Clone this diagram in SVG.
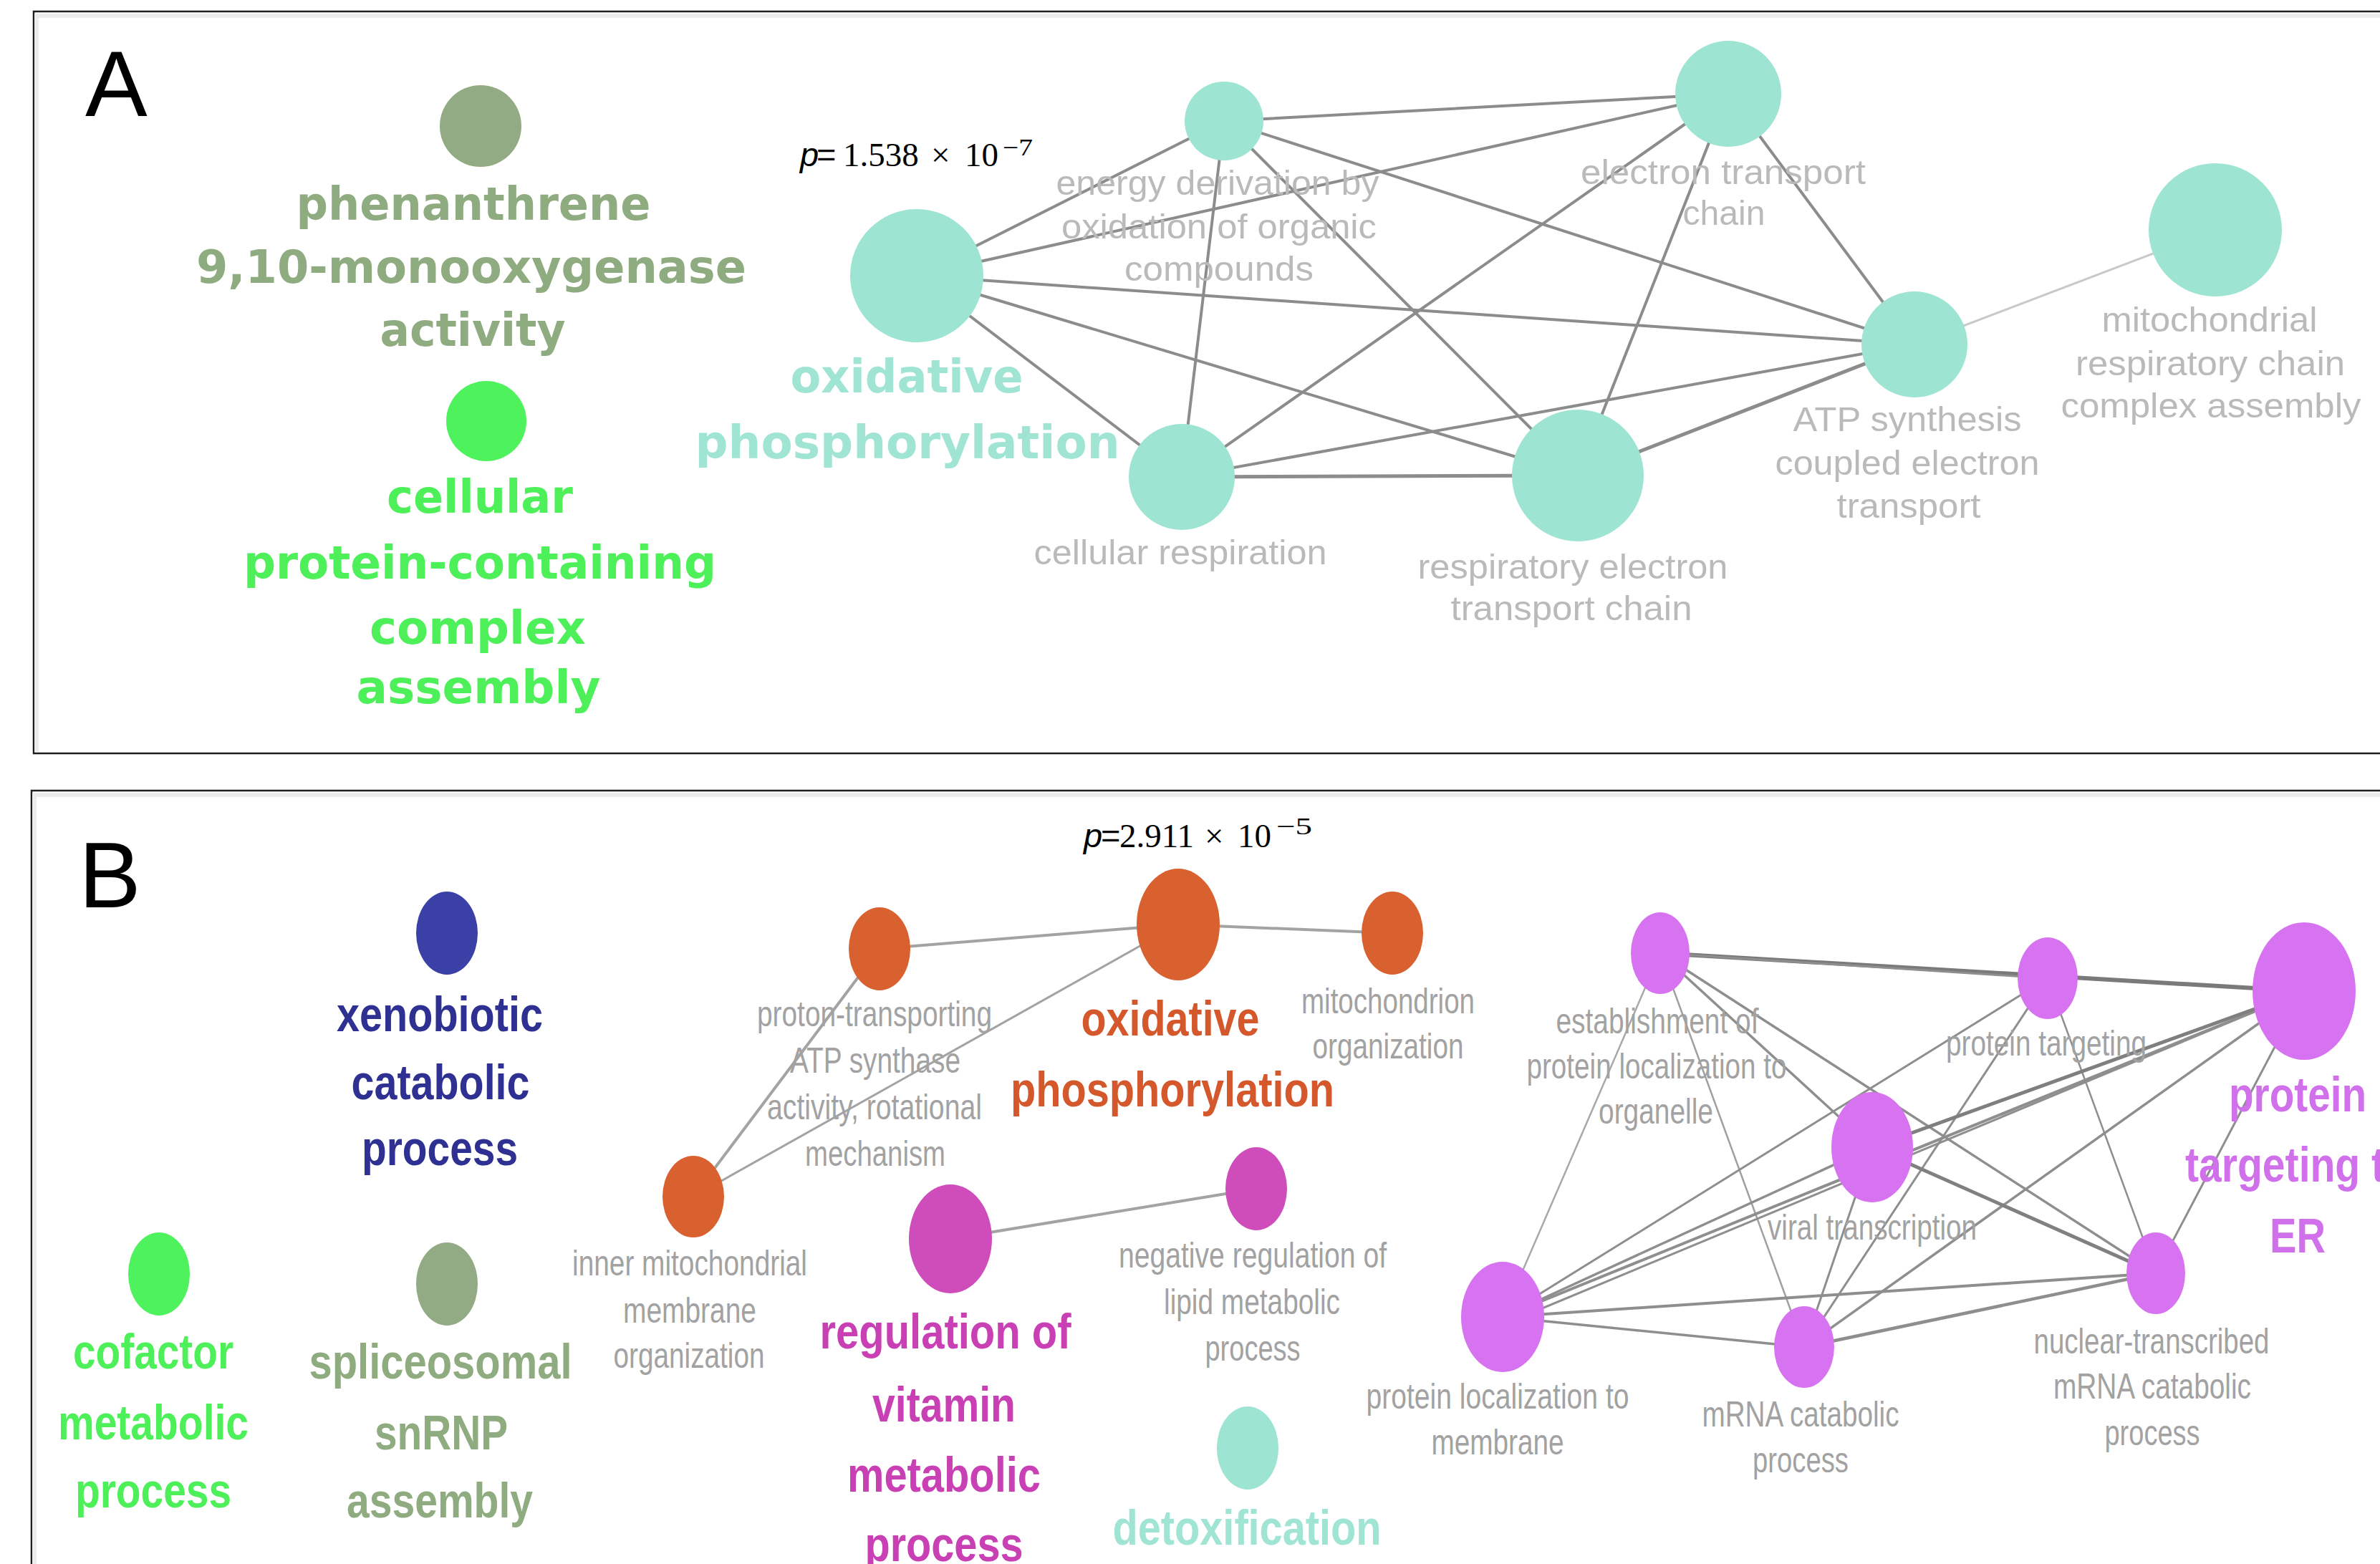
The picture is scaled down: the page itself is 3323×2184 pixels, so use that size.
<svg xmlns="http://www.w3.org/2000/svg" width="3323" height="2184" viewBox="0 0 3323 2184">
<style>
.panel{fill:#ffffff;stroke:#1e1e1e;stroke-width:2.5}
.shadow{fill:none;stroke:#ececec;stroke-width:6}
.lab{font-family:"Liberation Sans",Arial,sans-serif;font-size:130px;fill:#000}
.ab{font-family:"DejaVu Sans","Liberation Sans",sans-serif;font-weight:bold;font-size:64px;text-anchor:middle}
.ag{font-family:"Liberation Sans",Arial,sans-serif;font-size:48px;fill:#bababa;text-anchor:middle}
.bb{font-family:"Liberation Sans Narrow","Liberation Sans",Arial,sans-serif;font-weight:bold;font-size:68px;text-anchor:middle}
.bg{font-family:"Liberation Sans Narrow","Liberation Sans",Arial,sans-serif;font-size:50px;fill:#a2a2a2;text-anchor:middle}
.pv{font-family:"Liberation Serif","Times New Roman",serif;font-size:47px;fill:#000}
.pi{font-family:"Liberation Sans",Arial,sans-serif;font-style:italic}
.ps{font-family:"Liberation Sans",Arial,sans-serif}
.teal{fill:#9ee4d2}
.orng{fill:#d9602f}
.mag{fill:#cf4cbb}
.pur{fill:#d773f0}
.e{stroke:#8c8c8c;stroke-width:4;fill:none;stroke-linecap:round}
.eb{stroke:#a3a3a3;stroke-width:4;fill:none}
.ep{stroke:#8e8e8e;stroke-width:3;fill:none}
</style>

<g id="panels">
<rect class="panel" x="47" y="16" width="3400" height="1036"/>
<polyline class="shadow" points="51,1050 51,22 3330,22"/>
<rect class="panel" x="44" y="1104" width="3400" height="1200"/>
<polyline class="shadow" points="48,2190 48,1110 3330,1110"/>
<text class="lab" x="119" y="162">A</text>
<text class="lab" x="110" y="1267">B</text>
</g>

<g id="pvalues">
<text class="pv" y="232"><tspan class="pi" x="1117">p</tspan><tspan class="ps" x="1140">=</tspan><tspan x="1177">1.538</tspan><tspan x="1300">×</tspan><tspan x="1347">10</tspan><tspan x="1400" y="217" font-size="33" textLength="42" lengthAdjust="spacingAndGlyphs">−7</tspan></text>
<text class="pv" y="1183"><tspan class="pi" x="1513">p</tspan><tspan class="ps" x="1537">=</tspan><tspan x="1563">2.911</tspan><tspan x="1682">×</tspan><tspan x="1728">10</tspan><tspan x="1782" y="1165" font-size="33" textLength="50" lengthAdjust="spacingAndGlyphs">−5</tspan></text>
</g>

<g id="connectors">
<!-- panel A -->
<line class="e" x1="1280" y1="385" x2="1709" y2="169"/>
<line class="e" x1="1280" y1="385" x2="2413" y2="131"/>
<line class="e" x1="1280" y1="385" x2="2673" y2="481"/>
<line class="e" x1="1280" y1="385" x2="2203" y2="664"/>
<line class="e" x1="1280" y1="385" x2="1650" y2="666"/>
<line class="e" x1="1709" y1="169" x2="2413" y2="131"/>
<line class="e" x1="1709" y1="169" x2="2673" y2="481"/>
<line class="e" x1="1709" y1="169" x2="2203" y2="664"/>
<line class="e" x1="1709" y1="169" x2="1650" y2="666"/>
<line class="e" x1="1650" y1="666" x2="2413" y2="131"/>
<line class="e" x1="1650" y1="666" x2="2673" y2="481"/>
<line class="e" x1="1650" y1="666" x2="2203" y2="664" style="stroke-width:5"/>
<line class="e" x1="2203" y1="664" x2="2413" y2="131"/>
<line class="e" x1="2203" y1="664" x2="2673" y2="481" style="stroke-width:5"/>
<line class="e" x1="2413" y1="131" x2="2673" y2="481"/>
<line class="e" x1="2673" y1="481" x2="3093" y2="321" style="stroke:#c9c9c9;stroke-width:3"/>
<!-- panel B orange / magenta -->
<line class="eb" x1="1228" y1="1325" x2="1645" y2="1291"/>
<line class="eb" x1="1645" y1="1291" x2="1944" y2="1303"/>
<line class="eb" x1="968" y1="1671" x2="1228" y2="1325"/>
<line class="eb" x1="968" y1="1671" x2="1645" y2="1291" style="stroke-width:3"/>
<line class="eb" x1="1327" y1="1730" x2="1754" y2="1660"/>
<!-- panel B purple -->
<line class="ep" x1="2318" y1="1331" x2="3217" y2="1384" style="stroke:#7a7a7a;stroke-width:6"/>
<line class="ep" x1="2318" y1="1331" x2="2859" y2="1366"/>
<line class="ep" x1="2318" y1="1331" x2="2098" y2="1839" style="stroke:#a8a8a8;stroke-width:2.5"/>
<line class="ep" x1="2318" y1="1331" x2="2519" y2="1881" style="stroke:#a0a0a0;stroke-width:2.5"/>
<line class="ep" x1="2318" y1="1331" x2="2614" y2="1602" style="stroke-width:3.5"/>
<line class="ep" x1="2318" y1="1331" x2="3010" y2="1778" style="stroke-width:3.5"/>
<line class="ep" x1="2859" y1="1366" x2="2098" y2="1839"/>
<line class="ep" x1="2859" y1="1366" x2="2519" y2="1881"/>
<line class="ep" x1="2859" y1="1366" x2="3010" y2="1778" style="stroke-width:2.5"/>
<line class="ep" x1="3217" y1="1384" x2="2098" y2="1839" style="stroke-width:4"/>
<line class="ep" x1="3217" y1="1384" x2="2098" y2="1850" style="stroke-width:3"/>
<line class="ep" x1="3217" y1="1384" x2="2614" y2="1602" style="stroke-width:5;stroke:#7f7f7f"/>
<line class="ep" x1="3217" y1="1384" x2="2519" y2="1881" style="stroke-width:3.5"/>
<line class="ep" x1="3217" y1="1384" x2="3010" y2="1778"/>
<line class="ep" x1="2614" y1="1602" x2="2098" y2="1839" style="stroke-width:3.5"/>
<line class="ep" x1="2614" y1="1602" x2="2519" y2="1881"/>
<line class="ep" x1="2614" y1="1602" x2="3010" y2="1778" style="stroke-width:5;stroke:#808080"/>
<line class="ep" x1="2098" y1="1839" x2="3010" y2="1778" style="stroke-width:4"/>
<line class="ep" x1="2098" y1="1839" x2="2519" y2="1881" style="stroke-width:3.5"/>
<line class="ep" x1="2519" y1="1881" x2="3010" y2="1778" style="stroke-width:4.5"/>
</g>

<!-- Panel A nodes -->
<g id="nodeA_phenanthrene">
<circle cx="671" cy="176" r="57" fill="#93ab84"/>
<text class="ab" fill="#8fab80"><tspan x="661" y="307" textLength="495" lengthAdjust="spacingAndGlyphs">phenanthrene</tspan><tspan x="658" y="395" textLength="768" lengthAdjust="spacingAndGlyphs">9,10-monooxygenase</tspan><tspan x="660" y="483" textLength="259" lengthAdjust="spacingAndGlyphs">activity</tspan></text>
</g>
<g id="nodeA_cellular_protein">
<circle cx="679" cy="588" r="56" fill="#4ef25c"/>
<text class="ab" fill="#4ef05a"><tspan x="670" y="716" textLength="260" lengthAdjust="spacingAndGlyphs">cellular</tspan><tspan x="670" y="808" textLength="660" lengthAdjust="spacingAndGlyphs">protein-containing</tspan><tspan x="667" y="899" textLength="302" lengthAdjust="spacingAndGlyphs">complex</tspan><tspan x="668" y="982" textLength="341" lengthAdjust="spacingAndGlyphs">assembly</tspan></text>
</g>
<g id="nodeA_oxidative_phosphorylation">
<circle class="teal" cx="1280" cy="385" r="93"/>
<text class="ab" fill="#a0e4d3"><tspan x="1266" y="548" textLength="325" lengthAdjust="spacingAndGlyphs">oxidative</tspan><tspan x="1267" y="640" textLength="593" lengthAdjust="spacingAndGlyphs">phosphorylation</tspan></text>
</g>
<g id="nodeA_energy_derivation">
<circle class="teal" cx="1709" cy="169" r="55"/>
<text class="ag"><tspan x="1700" y="272" textLength="451" lengthAdjust="spacingAndGlyphs">energy derivation by</tspan><tspan x="1702" y="333" textLength="440" lengthAdjust="spacingAndGlyphs">oxidation of organic</tspan><tspan x="1702" y="392" textLength="264" lengthAdjust="spacingAndGlyphs">compounds</tspan></text>
</g>
<g id="nodeA_electron_transport_chain">
<circle class="teal" cx="2413" cy="131" r="74"/>
<text class="ag"><tspan x="2406" y="257" textLength="398" lengthAdjust="spacingAndGlyphs">electron transport</tspan><tspan x="2407" y="314" textLength="115" lengthAdjust="spacingAndGlyphs">chain</tspan></text>
</g>
<g id="nodeA_atp_synthesis">
<circle class="teal" cx="2673" cy="481" r="74"/>
<text class="ag"><tspan x="2663" y="602" textLength="319" lengthAdjust="spacingAndGlyphs">ATP synthesis</tspan><tspan x="2663" y="663" textLength="369" lengthAdjust="spacingAndGlyphs">coupled electron</tspan><tspan x="2665" y="723" textLength="201" lengthAdjust="spacingAndGlyphs">transport</tspan></text>
</g>
<g id="nodeA_mito_resp_chain_assembly">
<circle class="teal" cx="3093" cy="321" r="93"/>
<text class="ag"><tspan x="3085" y="463" textLength="301" lengthAdjust="spacingAndGlyphs">mitochondrial</tspan><tspan x="3086" y="524" textLength="376" lengthAdjust="spacingAndGlyphs">respiratory chain</tspan><tspan x="3087" y="583" textLength="419" lengthAdjust="spacingAndGlyphs">complex assembly</tspan></text>
</g>
<g id="nodeA_cellular_respiration">
<circle class="teal" cx="1650" cy="666" r="74"/>
<text class="ag"><tspan x="1648" y="788" textLength="409" lengthAdjust="spacingAndGlyphs">cellular respiration</tspan></text>
</g>
<g id="nodeA_respiratory_electron_transport">
<circle class="teal" cx="2203" cy="664" r="92"/>
<text class="ag"><tspan x="2196" y="808" textLength="433" lengthAdjust="spacingAndGlyphs">respiratory electron</tspan><tspan x="2194" y="866" textLength="337" lengthAdjust="spacingAndGlyphs">transport chain</tspan></text>
</g>

<!-- Panel B nodes -->
<g id="nodeB_xenobiotic">
<ellipse cx="624" cy="1303" rx="43" ry="58" fill="#3a40a6"/>
<text class="bb" fill="#2e3192"><tspan x="614" y="1440" textLength="288" lengthAdjust="spacingAndGlyphs">xenobiotic</tspan><tspan x="615" y="1535" textLength="249" lengthAdjust="spacingAndGlyphs">catabolic</tspan><tspan x="614" y="1627" textLength="218" lengthAdjust="spacingAndGlyphs">process</tspan></text>
</g>
<g id="nodeB_cofactor">
<ellipse cx="222" cy="1779" rx="43" ry="58" fill="#4ef25c"/>
<text class="bb" fill="#4ef05a"><tspan x="214" y="1911" textLength="224" lengthAdjust="spacingAndGlyphs">cofactor</tspan><tspan x="214" y="2010" textLength="266" lengthAdjust="spacingAndGlyphs">metabolic</tspan><tspan x="214" y="2105" textLength="218" lengthAdjust="spacingAndGlyphs">process</tspan></text>
</g>
<g id="nodeB_spliceosomal">
<ellipse cx="624" cy="1793" rx="43" ry="58" fill="#93ab84"/>
<text class="bb" fill="#8fab80"><tspan x="615" y="1925" textLength="367" lengthAdjust="spacingAndGlyphs">spliceosomal</tspan><tspan x="616" y="2024" textLength="186" lengthAdjust="spacingAndGlyphs">snRNP</tspan><tspan x="614" y="2119" textLength="260" lengthAdjust="spacingAndGlyphs">assembly</tspan></text>
</g>
<g id="nodeB_inner_membrane">
<ellipse class="orng" cx="968" cy="1671" rx="43" ry="57"/>
<text class="bg"><tspan x="963" y="1781" textLength="328" lengthAdjust="spacingAndGlyphs">inner mitochondrial</tspan><tspan x="963" y="1847" textLength="186" lengthAdjust="spacingAndGlyphs">membrane</tspan><tspan x="962" y="1910" textLength="211" lengthAdjust="spacingAndGlyphs">organization</tspan></text>
</g>
<g id="nodeB_proton_transporting">
<ellipse class="orng" cx="1228" cy="1325" rx="43" ry="58"/>
<text class="bg"><tspan x="1221" y="1433" textLength="328" lengthAdjust="spacingAndGlyphs">proton-transporting</tspan><tspan x="1222" y="1498" textLength="238" lengthAdjust="spacingAndGlyphs">ATP synthase</tspan><tspan x="1221" y="1563" textLength="300" lengthAdjust="spacingAndGlyphs">activity, rotational</tspan><tspan x="1222" y="1628" textLength="196" lengthAdjust="spacingAndGlyphs">mechanism</tspan></text>
</g>
<g id="nodeB_oxidative_phosphorylation">
<ellipse class="orng" cx="1645" cy="1291" rx="58" ry="78"/>
<text class="bb" fill="#d4582b"><tspan x="1634" y="1446" textLength="249" lengthAdjust="spacingAndGlyphs">oxidative</tspan><tspan x="1637" y="1545" textLength="452" lengthAdjust="spacingAndGlyphs">phosphorylation</tspan></text>
</g>
<g id="nodeB_mitochondrion_organization">
<ellipse class="orng" cx="1944" cy="1303" rx="43" ry="58"/>
<text class="bg"><tspan x="1938" y="1415" textLength="242" lengthAdjust="spacingAndGlyphs">mitochondrion</tspan><tspan x="1938" y="1478" textLength="211" lengthAdjust="spacingAndGlyphs">organization</tspan></text>
</g>
<g id="nodeB_regulation_vitamin">
<ellipse class="mag" cx="1327" cy="1730" rx="58" ry="76"/>
<text class="bb" fill="#c840b4"><tspan x="1320" y="1883" textLength="351" lengthAdjust="spacingAndGlyphs">regulation of</tspan><tspan x="1318" y="1985" textLength="200" lengthAdjust="spacingAndGlyphs">vitamin</tspan><tspan x="1318" y="2083" textLength="270" lengthAdjust="spacingAndGlyphs">metabolic</tspan><tspan x="1318" y="2180" textLength="221" lengthAdjust="spacingAndGlyphs">process</tspan></text>
</g>
<g id="nodeB_negative_regulation_lipid">
<ellipse class="mag" cx="1754" cy="1660" rx="43" ry="58"/>
<text class="bg"><tspan x="1749" y="1770" textLength="374" lengthAdjust="spacingAndGlyphs">negative regulation of</tspan><tspan x="1748" y="1835" textLength="246" lengthAdjust="spacingAndGlyphs">lipid metabolic</tspan><tspan x="1749" y="1900" textLength="133" lengthAdjust="spacingAndGlyphs">process</tspan></text>
</g>
<g id="nodeB_detoxification">
<ellipse class="teal" cx="1742" cy="2022" rx="43" ry="58"/>
<text class="bb" fill="#a0e4d3"><tspan x="1741" y="2157" textLength="375" lengthAdjust="spacingAndGlyphs">detoxification</tspan></text>
</g>
<g id="nodeB_establishment">
<ellipse class="pur" cx="2318" cy="1331" rx="41" ry="57"/>
<text class="bg"><tspan x="2314" y="1443" textLength="283" lengthAdjust="spacingAndGlyphs">establishment of</tspan><tspan x="2313" y="1506" textLength="363" lengthAdjust="spacingAndGlyphs">protein localization to</tspan><tspan x="2312" y="1569" textLength="160" lengthAdjust="spacingAndGlyphs">organelle</tspan></text>
</g>
<g id="nodeB_protein_targeting">
<ellipse class="pur" cx="2859" cy="1366" rx="42" ry="57"/>
<text class="bg"><tspan x="2857" y="1474" textLength="280" lengthAdjust="spacingAndGlyphs">protein targeting</tspan></text>
</g>
<g id="nodeB_protein_targeting_ER">
<ellipse class="pur" cx="3217" cy="1384" rx="72" ry="96"/>
<text class="bb" fill="#d070ea"><tspan x="3208" y="1552" textLength="192" lengthAdjust="spacingAndGlyphs">protein</tspan><tspan x="3208" y="1650" textLength="314" lengthAdjust="spacingAndGlyphs">targeting to</tspan><tspan x="3208" y="1749" textLength="78" lengthAdjust="spacingAndGlyphs">ER</tspan></text>
</g>
<g id="nodeB_viral_transcription">
<ellipse class="pur" cx="2614" cy="1602" rx="57" ry="77"/>
<text class="bg"><tspan x="2614" y="1731" textLength="292" lengthAdjust="spacingAndGlyphs">viral transcription</tspan></text>
</g>
<g id="nodeB_protein_localization_membrane">
<ellipse class="pur" cx="2098" cy="1839" rx="58" ry="77"/>
<text class="bg"><tspan x="2091" y="1967" textLength="367" lengthAdjust="spacingAndGlyphs">protein localization to</tspan><tspan x="2091" y="2031" textLength="185" lengthAdjust="spacingAndGlyphs">membrane</tspan></text>
</g>
<g id="nodeB_mRNA_catabolic">
<ellipse class="pur" cx="2519" cy="1881" rx="42" ry="57"/>
<text class="bg"><tspan x="2514" y="1992" textLength="275" lengthAdjust="spacingAndGlyphs">mRNA catabolic</tspan><tspan x="2514" y="2056" textLength="134" lengthAdjust="spacingAndGlyphs">process</tspan></text>
</g>
<g id="nodeB_nuclear_transcribed">
<ellipse class="pur" cx="3010" cy="1778" rx="41" ry="57"/>
<text class="bg"><tspan x="3004" y="1890" textLength="329" lengthAdjust="spacingAndGlyphs">nuclear-transcribed</tspan><tspan x="3005" y="1953" textLength="276" lengthAdjust="spacingAndGlyphs">mRNA catabolic</tspan><tspan x="3005" y="2018" textLength="133" lengthAdjust="spacingAndGlyphs">process</tspan></text>
</g>
</svg>
